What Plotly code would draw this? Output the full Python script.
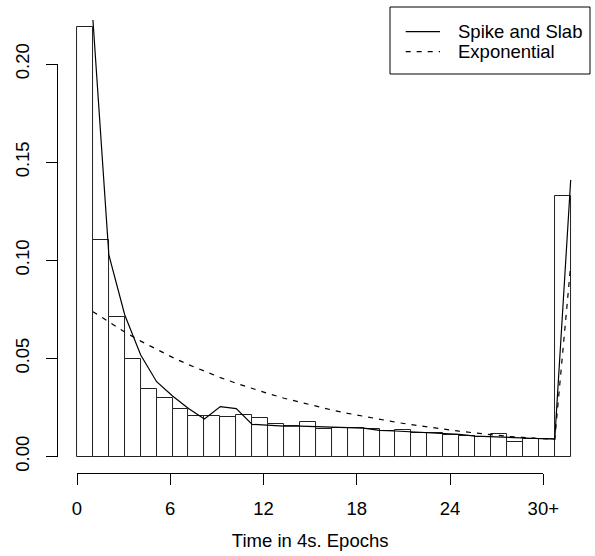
import plotly.graph_objects as go

# ---------------- data ----------------
epochs = list(range(31))                      # bin left edges, last bin = "30+"
observed = [0.2190, 0.1103, 0.0712, 0.0498, 0.0344, 0.0297, 0.0244, 0.0208, 0.0208, 0.0203,
            0.0210, 0.0198, 0.0167, 0.0157, 0.0177, 0.0139, 0.0147, 0.0147, 0.0139, 0.0128,
            0.0133, 0.0121, 0.0118, 0.0110, 0.0106, 0.0098, 0.0116, 0.0072, 0.0089, 0.0089,
            0.1327]
fit_x = list(range(1, 32))
spike_slab = [0.2224, 0.1027, 0.0721, 0.0517, 0.0381, 0.0308, 0.0245, 0.0191, 0.0254, 0.0244,
              0.0164, 0.0160, 0.0155, 0.0155, 0.0152, 0.0147, 0.0147, 0.0145, 0.0133, 0.0130,
              0.0126, 0.0123, 0.0118, 0.0113, 0.0104, 0.0101, 0.0096, 0.0093, 0.0089, 0.0088,
              0.1409]
exponential = [0.0738, 0.0684, 0.0634, 0.0588, 0.0545, 0.0505, 0.0468, 0.0434, 0.0402, 0.0373,
               0.0346, 0.0321, 0.0297, 0.0276, 0.0256, 0.0237, 0.0220, 0.0204, 0.0189, 0.0175,
               0.0162, 0.0150, 0.0139, 0.0129, 0.0120, 0.0111, 0.0103, 0.0097, 0.0092, 0.0088,
               0.0975]
series_names = ["Spike and Slab", "Exponential"]
x_tickvals = [0, 6, 12, 18, 24, 30]
x_ticktext = ["0", "6", "12", "18", "24", "30+"]
y_tickvals = [0.00, 0.05, 0.10, 0.15, 0.20]
y_ticktext = ["0.00", "0.05", "0.10", "0.15", "0.20"]

# ---------------- layout geometry (pixels) ----------------
W, H = 595, 556
bar_x0, bar_x1 = 77.0, 570.7        # pixel span of bins 0..31
y0_px, y20_px = 456.5, 64.0         # pixel of 0.00 and 0.20
tick_x1 = 543.3                     # pixel of x tick "30+"
xaxis_line_px = 473.3
yaxis_line_px = 56.7

pxu = (bar_x1 - bar_x0) / 31.0
pad = 0.5
ppu = (y0_px - y20_px) / 0.20
y_hi = y0_px / ppu
y_lo = -(H - y0_px) / ppu

FONT = "Liberation Sans, Arial, Helvetica, sans-serif"
FS = 18.5
DASH = "5px,6px"


def px(x):
    return x / W


def py(y):
    return 1 - y / H


fig = go.Figure()
fig.add_trace(go.Bar(
    x=epochs, y=observed, width=1, offset=0,
    marker=dict(color="white", line=dict(color="#222222", width=1)),
    showlegend=False, hoverinfo="skip"))
fig.add_trace(go.Scatter(
    x=fit_x, y=spike_slab, mode="lines", name=series_names[0], showlegend=False,
    line=dict(color="black", width=1.2)))
fig.add_trace(go.Scatter(
    x=fit_x, y=exponential, mode="lines", name=series_names[1], showlegend=False,
    line=dict(color="black", width=1.2, dash=DASH)))
# carrier for the visible (R-style, detached) axes
fig.add_trace(go.Scatter(x=[None], y=[None], xaxis="x2", yaxis="y2",
                         showlegend=False, hoverinfo="skip"))

# legend box (R style)
leg_l, leg_t, leg_r, leg_b = 390, 7, 590, 74
shapes = [dict(type="rect", xref="paper", yref="paper",
               x0=px(leg_l), x1=px(leg_r), y0=py(leg_b), y1=py(leg_t),
               line=dict(color="black", width=1), fillcolor="white", layer="above")]
annotations = []
for i, (nm, dash) in enumerate(zip(series_names, ["solid", DASH])):
    yy = 31.7 + 20 * i
    shapes.append(dict(type="line", xref="paper", yref="paper",
                       x0=px(405.7), x1=px(440), y0=py(yy), y1=py(yy),
                       line=dict(color="black", width=1.2, dash=dash), layer="above"))
    annotations.append(dict(text=nm, xref="paper", yref="paper", x=px(456), y=py(yy),
                            xanchor="left", yanchor="middle", showarrow=False,
                            font=dict(size=FS, color="black", family=FONT)))

fig.update_layout(
    width=W, height=H,
    margin=dict(l=0, r=0, t=0, b=0, pad=0, autoexpand=False),
    paper_bgcolor="white", plot_bgcolor="rgba(0,0,0,0)",
    font=dict(family=FONT, size=FS, color="black"),
    bargap=0,
    showlegend=False,
    xaxis=dict(domain=[px(bar_x0 - pad * pxu), px(bar_x1 + pad * pxu)],
               range=[-pad, 31 + pad], visible=False),
    yaxis=dict(domain=[0, 1], range=[y_lo, y_hi], visible=False),
    xaxis2=dict(domain=[px(bar_x0), px(tick_x1)], range=[0, 30],
                anchor="free", position=(H - xaxis_line_px) / H,
                tickmode="array", tickvals=x_tickvals, ticktext=x_ticktext,
                ticks="outside", ticklen=11, tickwidth=1, tickcolor="black",
                showline=True, linecolor="black", linewidth=1,
                showgrid=False, zeroline=False, automargin=False,
                ticklabelstandoff=7,
                title=dict(text="Time in 4s. Epochs", standoff=16,
                           font=dict(size=FS))),
    yaxis2=dict(domain=[(H - y0_px) / H, (H - y20_px) / H], range=[0, 0.20],
                anchor="free", position=px(yaxis_line_px),
                tickmode="array", tickvals=y_tickvals, ticktext=y_ticktext,
                tickangle=-90,
                ticks="outside", ticklen=11, tickwidth=1, tickcolor="black",
                showline=True, linecolor="black", linewidth=1,
                showgrid=False, zeroline=False, automargin=False,
                ticklabelstandoff=9),
    shapes=shapes,
    annotations=annotations,
)

fig.write_html("out.html")
